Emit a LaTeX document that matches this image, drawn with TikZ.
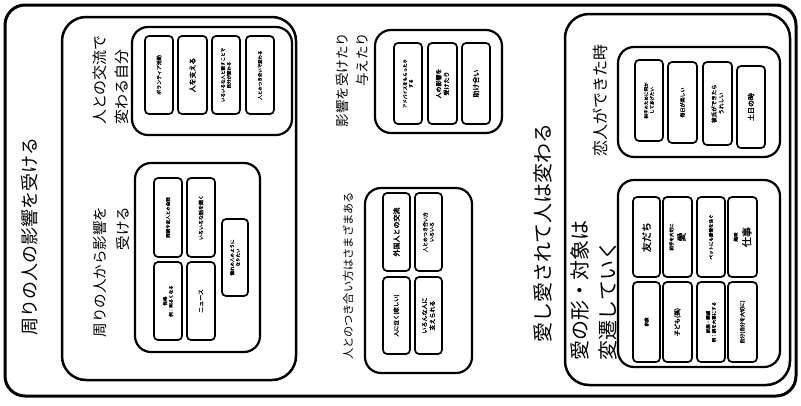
\documentclass[tikz,border=0pt]{standalone}
\usepackage{fontspec}
\setmainfont[AutoFakeBold=1.6]{Noto Sans CJK JP}
\tikzset{
  outerframe/.style={draw, line width=3pt, rounded corners=20pt},
  container/.style={draw, line width=2.5pt, rounded corners=24pt},
  grp/.style={draw, line width=2.2pt, rounded corners=16pt},
  cell/.style={draw, line width=1.7pt, rounded corners=4pt, rotate=90, align=center, inner sep=1pt},
  lbl/.style={rotate=90, inner sep=0pt},
}
\newcommand{\cb}[7]{\node[cell, minimum width={#5-#3}, minimum height={#4-#2}, font=\fontsize{#6}{\dimexpr #6pt*13/10\relax}\selectfont\bfseries] (#1) at ({(#2+#4)/2},{(#3+#5)/2}) {#7};}
\newcommand{\gb}[6]{\node[#6, minimum width={#4-#2}, minimum height={#5-#3}, inner sep=0pt] (#1) at ({(#2+#4)/2},{(#3+#5)/2}) {};}
\begin{document}
\begin{tikzpicture}[x=1pt, y=-1pt]
\useasboundingbox (0,0) rectangle (801,405);
\gb{outer}{5}{5}{796}{396}{outerframe}
% left container
\gb{left}{62}{17}{296}{380}{container}
\node[lbl, font=\fontsize{18}{22}\selectfont] (lleft) at (30,236) {周りの人の影響を受ける};
% group A
\gb{ga}{132}{27}{292}{135}{grp}
\node[lbl, align=left, font=\fontsize{15}{22}\selectfont] (la) at (111,80) {人との交流で\\変わる自分};
\cb{a1}{145}{36}{173}{114}{5}{ボランティア活動}
\cb{a2}{178}{36}{207}{114}{7}{人を支える}
\cb{a3}{212}{36}{240}{114}{4.5}{いろいろな人と話すことで\\自分が変わる}
\cb{a4}{246}{36}{274}{114}{4.5}{人とのつき合いで変わる}
% group B
\gb{gb}{135}{163}{260}{352}{grp}
\node[lbl, align=right, font=\fontsize{14.5}{23}\selectfont] (lb) at (111,272) {周りの人から影響を\\受ける};
\cb{b1}{154}{178}{182}{257}{4.5}{両親や友人との会話}
\cb{b2}{154}{262}{182}{340}{4.5}{性格\\例：明るくなる}
\cb{b3}{187}{178}{215}{257}{5}{いろいろな話を聞く}
\cb{b4}{187}{262}{215}{340}{6}{ニュース}
\cb{b5}{222}{219}{248}{296}{4.5}{憧れの人のように\\なりたい}
% group C
\gb{gc}{375}{30}{502}{133}{grp}
\node[lbl, align=right, font=\fontsize{13.5}{20}\selectfont] (lc) at (352,80) {影響を受けたり\\与えたり};
\cb{c1}{394}{43}{422}{124}{4.5}{アドバイスをもらったり\\する}
\cb{c2}{428}{43}{457}{124}{6}{人の影響を\\受けたり}
\cb{c3}{462}{43}{490}{124}{7}{助け合い}
% group D
\gb{gd}{365}{188}{472}{373}{grp}
\node[lbl, font=\fontsize{11.2}{13}\selectfont] (ld) at (348,276) {人とのつき合い方はさまざまある};
\cb{d1}{383}{193}{410}{271}{7}{外国人との交流}
\cb{d2}{383}{277}{410}{354}{5.5}{人に泣く(悲しい)}
\cb{d3}{415}{193}{442}{271}{5}{人とのつき合い方\\いろいろ}
\cb{d4}{415}{277}{442}{354}{6}{いろんな人に\\支えられる}
% middle label
\node[lbl, font=\fontsize{20}{24}\selectfont] (lmid) at (543,233) {愛し愛されて人は変わる};
% right container
\gb{right}{565}{14}{790}{385}{container}
% group E
\gb{ge}{618}{47}{780}{157}{grp}
\node[lbl, font=\fontsize{16}{20}\selectfont] (le) at (600,100) {恋人ができた時};
\cb{e1}{635}{60}{663}{141}{4.5}{相手のために何か\\してあげたい}
\cb{e2}{668}{62}{697}{143}{5}{毎日が楽しい}
\cb{e3}{703}{62}{732}{145}{5.5}{彼氏ができたら\\うれしい}
\cb{e4}{737}{66}{765}{148}{7}{土日の時}
% group F
\gb{gf}{618}{180}{780}{367}{grp}
\node[lbl, align=left, font=\fontsize{20}{28}\selectfont] (lf) at (594,290) {愛の形・対象は\\変遷していく};
\cb{f1}{633}{197}{660}{277}{10}{友だち}
\cb{f2}{633}{282}{660}{362}{4.5}{家族}
\cb{f3}{663}{197}{692}{277}{9}{{\fontsize{4.5}{5}\selectfont 相手を大切に}\\愛}
\cb{f4}{663}{282}{692}{362}{6}{子ども(孫)}
\cb{f5}{697}{197}{725}{277}{4.5}{ペットにも愛情を注ぐ}
\cb{f6}{697}{282}{725}{362}{4.5}{家族・親戚\\例：親を大事にする}
\cb{f7}{728}{197}{757}{277}{10}{{\fontsize{4.5}{5}\selectfont 趣味}\\仕事}
\cb{f8}{728}{282}{757}{362}{5}{自分(自分を大切に)}
\end{tikzpicture}
\end{document}
